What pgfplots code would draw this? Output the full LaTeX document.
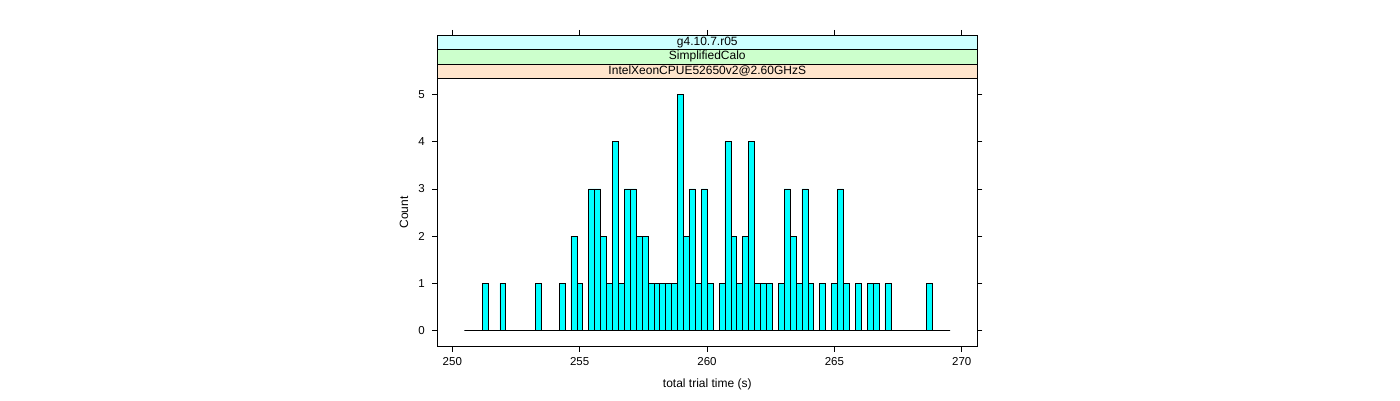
\documentclass[border=0pt]{standalone}
\usepackage{pgfplots}
\pgfplotsset{compat=1.18}
\usepackage{pgfplotstable}
\usepackage{fontspec}
\setmainfont{Liberation Sans}
\definecolor{barcyan}{HTML}{00FFFF}
\definecolor{stripA}{HTML}{FFE5CC}
\definecolor{stripB}{HTML}{CCFFCC}
\definecolor{stripC}{HTML}{CCFFFF}
\pgfplotstableread{
x y
250.4700 0
250.7026 0
250.9352 0
251.1677 1
251.4003 0
251.6329 0
251.8655 1
252.0981 0
252.3306 0
252.5632 0
252.7958 0
253.0284 0
253.2610 1
253.4935 0
253.7261 0
253.9587 0
254.1913 1
254.4239 0
254.6564 2
254.8890 1
255.1216 0
255.3542 3
255.5868 3
255.8193 2
256.0519 1
256.2845 4
256.5171 1
256.7497 3
256.9822 3
257.2148 2
257.4474 2
257.6800 1
257.9126 1
258.1451 1
258.3777 1
258.6103 1
258.8429 5
259.0755 2
259.3080 3
259.5406 1
259.7732 3
260.0058 1
260.2384 0
260.4709 1
260.7035 4
260.9361 2
261.1687 1
261.4013 2
261.6338 4
261.8664 1
262.0990 1
262.3316 1
262.5642 0
262.7967 1
263.0293 3
263.2619 2
263.4945 1
263.7271 3
263.9596 1
264.1922 0
264.4248 1
264.6574 0
264.8900 1
265.1225 3
265.3551 1
265.5877 0
265.8203 1
266.0529 0
266.2854 1
266.5180 1
266.7506 0
266.9832 1
267.2158 0
267.4483 0
267.6809 0
267.9135 0
268.1461 0
268.3787 0
268.6112 1
268.8438 0
269.0764 0
269.3090 0
269.5416 0
}\hist
\begin{document}
\begin{tikzpicture}[x=1pt,y=1pt]
\useasboundingbox (0,0) rectangle (1400,400);
\begin{axis}[
  at={(437.3pt,53.3pt)}, anchor=south west, scale only axis,
  width=540pt, height=268.2pt,
  xmin=249.41, xmax=270.61, ymin=-0.339, ymax=5.339,
  xtick={250,255,260,265,270}, ytick={0,1,2,3,4,5},
  xtick pos=bottom, ytick pos=both, yticklabel pos=left,
  tick align=outside, major tick length=5pt,
  tick style={black, line width=0.8pt},
  axis line style={black, line width=0.8pt},
  clip=false,
  /pgf/number format/assume math mode=true,
  ticklabel style={font=\fontsize{11.5}{13}\selectfont},
  xticklabel style={yshift=-2pt},
  yticklabel style={xshift=-4pt},
  xlabel={total trial time (s)}, ylabel={Count},
  label style={font=\fontsize{12}{14}\selectfont},
  xlabel style={at={(axis description cs:0.5,-0.1391)}, anchor=center},
  ylabel style={at={(axis description cs:-0.0617,0.5)}, anchor=center},
]
\addplot[ybar interval, fill=barcyan, draw=black, line width=0.7pt] table[x=x,y=y] {\hist};
\path[draw=black, line width=0.8pt, fill=stripA] (rel axis cs:0,1) rectangle ([yshift=14.5pt]rel axis cs:1,1);
\path[draw=black, line width=0.8pt, fill=stripB] ([yshift=14.5pt]rel axis cs:0,1) rectangle ([yshift=29pt]rel axis cs:1,1);
\path[draw=black, line width=0.8pt, fill=stripC] ([yshift=29pt]rel axis cs:0,1) rectangle ([yshift=43.5pt]rel axis cs:1,1);
\node[font=\fontsize{12}{14}\selectfont, anchor=center] at ([yshift=7.25pt]rel axis cs:0.5,1) {IntelXeonCPUE52650v2@2.60GHzS};
\node[font=\fontsize{12}{14}\selectfont, anchor=center] at ([yshift=21.75pt]rel axis cs:0.5,1) {SimplifiedCalo};
\node[font=\fontsize{12}{14}\selectfont, anchor=center] at ([yshift=36.25pt]rel axis cs:0.5,1) {g4.10.7.r05};
\end{axis}
\begin{axis}[
  at={(437.3pt,53.3pt)}, anchor=south west, scale only axis,
  width=540pt, height=311.7pt,
  xmin=249.41, xmax=270.61, ymin=0, ymax=1,
  axis x line*=top, axis y line=none,
  xtick={250,255,260,265,270}, xticklabels={},
  tick align=outside, major tick length=5pt,
  tick style={black, line width=0.8pt},
  axis line style={black, line width=0.8pt},
]
\end{axis}
\end{tikzpicture}
\end{document}
